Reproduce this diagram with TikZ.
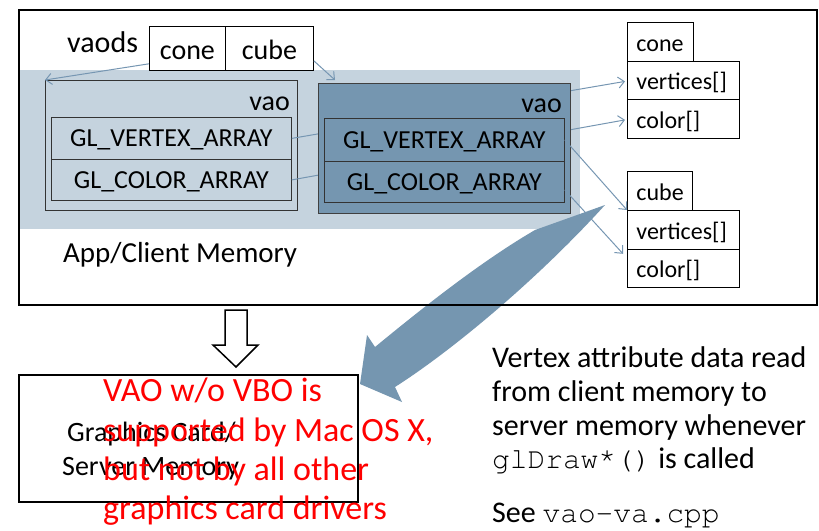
\documentclass[tikz,border=0pt]{standalone}
\usepackage{fontspec}
\setmainfont{Carlito}
\setmonofont{TeX Gyre Cursor}
\usetikzlibrary{arrows.meta,calc}
\definecolor{bandblue}{RGB}{197,211,222}
\definecolor{steel}{RGB}{117,150,176}
\definecolor{linkblue}{RGB}{118,150,178}
\newcommand{\fs}[1]{\fontsize{#1}{#1}\selectfont}
\begin{document}
\begin{tikzpicture}[x=1pt,y=-1pt,
  box/.style={draw=black!80, line width=0.8pt, inner sep=0pt, anchor=north west},
  vaobox/.style={box, minimum width=252pt, minimum height=130pt},
  rowbox/.style={box, minimum width=240pt, font=\fs{26}, text height=17pt, text depth=0pt},
  cell/.style={box, draw=black, fill=white, minimum height=44pt, font=\fs{28}, text height=22pt, text depth=0pt},
  field/.style={box, draw=black, fill=white, inner xsep=9pt, align=left, font=\fs{24}, text height=19pt, text depth=0pt},
  link/.style={draw=linkblue, line width=1pt, -{Straight Barb[length=6pt,width=11pt,line width=1pt]}},
  lbl/.style={inner sep=0pt, anchor=base west},
  note/.style={lbl, font=\fs{30}},
  warn/.style={lbl, text=red, font=\fs{34}}
]
\useasboundingbox (0,0) rectangle (819,530);

% client memory region with the array objects
\fill[bandblue] (18,70) rectangle (580,229);

% data structures on the right
\node[field, text width=48pt, minimum height=39pt] (coneL) at (627,22) {cone};
\node[field, text width=94pt, minimum height=38pt] (coneV) at (627,61) {vertices[]};
\node[field, text width=94pt, minimum height=39pt] (coneC) at (627,99) {color[]};
\node[field, text width=47pt, minimum height=39pt] (cubeL) at (627,171) {cube};
\node[field, text width=94pt, minimum height=39pt] (cubeV) at (627,210) {vertices[]};
\node[field, text width=94pt, minimum height=38pt] (cubeC) at (627,249) {color[]};

% vao for the cone (client arrays)
\node[vaobox, fill=bandblue] (vaoA) at (45,80) {};
\node[inner sep=0pt, anchor=base east, font=\fs{28}] at (290,110) {vao};
\node[rowbox, minimum height=42pt] (vaA) at (51,117) {GL\_VERTEX\_ARRAY};
\node[rowbox, minimum height=41pt] (caA) at (51,159) {GL\_COLOR\_ARRAY};

% pointers from the cone vao to the cone data (pass behind the cube vao)
\draw[link] (vaA.east) -- ($(coneV.west)+(-2,1)$);
\draw[link] (caA.east) -- ($(coneC.west)+(-2,1)$);

% vao for the cube
\node[vaobox, fill=steel, draw=black!75] (vaoB) at (318,83) {};
\node[inner sep=0pt, anchor=base east, font=\fs{28}] at (562,112) {vao};
\node[rowbox, fill=steel, minimum height=43pt] (vaB) at (324,118) {GL\_VERTEX\_ARRAY};
\node[rowbox, fill=steel, minimum height=41pt] (caB) at (324,161) {GL\_COLOR\_ARRAY};

% the vaods array
\node[lbl, font=\fs{30}] at (67,52) {vaods};
\node[cell, minimum width=76pt] (cone) at (149,26) {cone};
\node[cell, minimum width=88pt] (cube) at (225,26) {cube};
\draw[link] ($(cone.south west)+(0,-7)$) -- (vaoA.north west);
\draw[link] ($(cube.south east)+(0,-10)$) -- ($(vaoB.north west)+(17,-3)$);

% curved transfer arrow towards the graphics card
\fill[steel] (605,205) -- (535,230)
  .. controls (480,262) and (420,310) .. (375,347)
  -- (367,335) -- (360,384) -- (402,402) -- (395,387)
  .. controls (450,352) and (535,282) .. (605,205) -- cycle;

% pointers from the cube vao to the cube data
\draw[link] (vaB.east) -- (cubeV.north west);
\draw[link] ($(caB.east)+(0,8)$) -- ($(cubeV.south west)+(-4,4)$);

\node[lbl, font=\fs{29}] at (63,262) {App/Client Memory};

% graphics card / server memory
\node[box, draw=black, line width=2pt, minimum width=339pt, minimum height=127pt] (gpu) at (18,374) {};
\node[lbl, font=\fs{28}] at (67,441) {Graphics Card/};
\node[lbl, font=\fs{28}] at (62,475) {Server Memory};

% client memory frame
\node[box, draw=black, line width=2pt, minimum width=798pt, minimum height=295pt] (client) at (18,9) {};

% hollow arrow from client to server memory
\draw[line width=1.5pt, fill=white, line join=miter]
  (225,310) -- (247,310) -- (247,345) -- (258,345) -- (236,367) -- (213,345) -- (225,345) -- cycle;

% warning in red
\node[warn] at (103,401) {VAO w/o VBO is};
\node[warn] at (103,441) {supported by Mac OS X,};
\node[warn] at (103,480) {but not by all other};
\node[warn] at (103,519) {graphics card drivers};

% explanation
\node[note] at (492,367) {Vertex attribute data read};
\node[note] at (492,401) {from client memory to};
\node[note] at (492,435) {server memory whenever};
\node[note] at (492,468) {{\fontsize{29.5}{30}\ttfamily glDraw*()} is called};
\node[note] at (492,522) {See {\fontsize{29.5}{30}\ttfamily vao-va.cpp}};
\end{tikzpicture}
\end{document}
